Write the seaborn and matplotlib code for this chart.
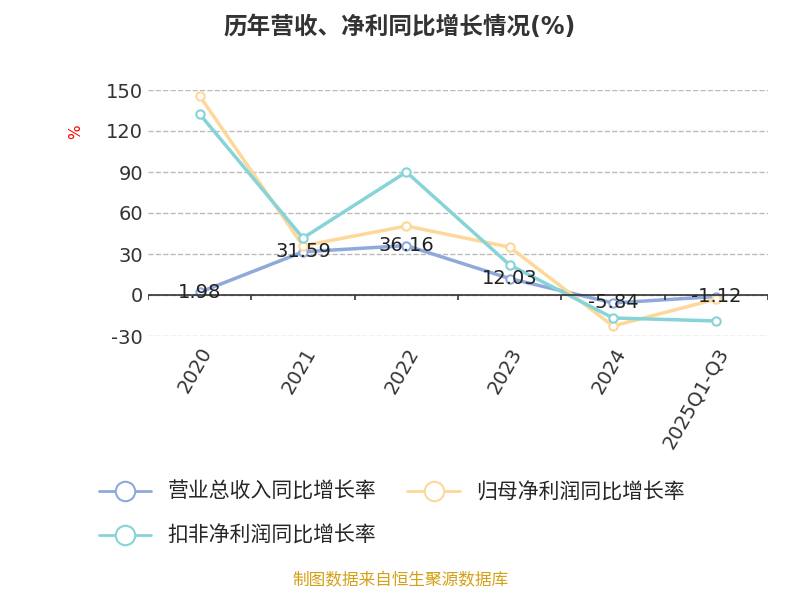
import matplotlib
matplotlib.use("Agg")
import matplotlib.pyplot as plt
import seaborn as sns
import pandas as pd
from matplotlib.lines import Line2D

sns.set_theme(style="white")
plt.rcParams['font.family'] = ['DejaVu Sans', 'Noto Sans CJK SC']

years = ["2020", "2021", "2022", "2023", "2024", "2025Q1-Q3"]
revenue = [1.98, 31.59, 36.16, 12.03, -5.84, -1.12]
netprofit = [145.6, 36.0, 50.5, 35.0, -22.7, -3.0]
deducted = [132.4, 41.7, 90.0, 22.0, -16.8, -19.0]
names = ["营业总收入同比增长率", "归母净利润同比增长率", "扣非净利润同比增长率"]
colors = ["#8eaadb", "#fdd89a", "#86d4d8"]

df = pd.DataFrame({"x": list(range(6)) * 3,
                   "v": revenue + netprofit + deducted,
                   "s": [names[0]] * 6 + [names[1]] * 6 + [names[2]] * 6})

fig = plt.figure(figsize=(8, 6), dpi=100)
ax = fig.add_axes([0.185, 0.44, 0.775, 0.41])
for i, n in enumerate(names):
    d = df[df.s == n]
    sns.lineplot(data=d, x="x", y="v", ax=ax, color=colors[i], lw=2.5,
                 marker="o", markersize=6, markerfacecolor="white",
                 markeredgecolor=colors[i], markeredgewidth=1.5, legend=False)
for i, v in enumerate(revenue):
    ax.text(i, v, f"{v:.2f}", ha="center", va="center", fontsize=14, color="#222")

ax.set_xlim(-0.5, 5.5)
ax.set_ylim(-30, 150)
ax.set_yticks(range(-30, 151, 30))
ax.set_yticklabels([str(t) for t in range(-30, 151, 30)])
ax.tick_params(axis="y", labelsize=14, colors="#333", length=0)
ax.set_xticks(range(6))
ax.set_xticklabels(years)
plt.setp(ax.get_xticklabels(), rotation=60, fontsize=14, color="#333",
         ha="right", rotation_mode="anchor")
ax.tick_params(axis="x", length=0, pad=6)
ax.yaxis.grid(True, ls="--", color="#bbb", lw=1)
for s in ["top", "right", "left", "bottom"]:
    ax.spines[s].set_visible(False)
ax.axhline(0, color="#333", lw=1.2)
ax.vlines([i - 0.5 for i in range(7)], -4, 0, color="#333", lw=1.2)
ax.set_xlabel(""); ax.set_ylabel("")
fig.text(0.095, 0.78, "%", color="red", fontsize=11, rotation=90, ha="center", va="center")

fig.text(0.5, 0.955, "历年营收、净利同比增长情况(%)", ha="center", va="center",
         fontsize=17, fontweight="bold", color="#333")

def h(c):
    return Line2D([], [], color=c, lw=2, marker="o", markersize=14,
                  markerfacecolor="white", markeredgecolor=c, markeredgewidth=1.5)
fig.legend([h(colors[0]), h(colors[1])], names[:2], loc="center left",
           bbox_to_anchor=(0.1, 0.18), ncol=2, frameon=False, fontsize=15,
           handlelength=2.5, columnspacing=1.5)
fig.legend([h(colors[2])], names[2:], loc="center left",
           bbox_to_anchor=(0.1, 0.107), frameon=False, fontsize=15, handlelength=2.5)
fig.text(0.5, 0.018, "制图数据来自恒生聚源数据库", ha="center", va="bottom",
         fontsize=12, color="#d4a017")
fig.savefig("out.png", dpi=100)
